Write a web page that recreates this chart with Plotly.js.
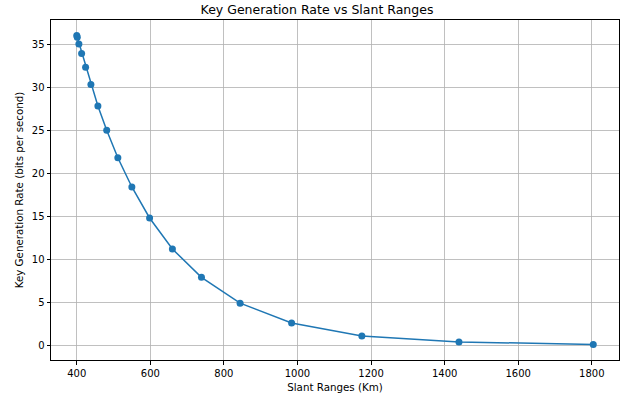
<!DOCTYPE html>
<html>
<head>
<meta charset="utf-8">
<script src="https://cdn.plot.ly/plotly-3.0.1.min.js"></script>
<style>html,body{margin:0;padding:0;background:#fff;}#chart{width:634px;height:401px;}</style>
</head>
<body>
<div id="chart"></div>
<script>
const slantRanges = [400, 401.4, 405.8, 413.2, 424, 438.5, 457.5, 481.4, 511.7, 549.8, 598, 660, 739, 844, 984, 1175, 1439, 1804];
const keyRates = [36.0, 35.8, 35.0, 33.9, 32.3, 30.3, 27.8, 25.0, 21.8, 18.4, 14.8, 11.2, 7.9, 4.9, 2.6, 1.1, 0.4, 0.1];
const xTicks = [400, 600, 800, 1000, 1200, 1400, 1600, 1800];
const yTicks = [0, 5, 10, 15, 20, 25, 30, 35];

const font = {family: 'DejaVu Sans, sans-serif', size: 10, color: '#000'};
const titleFont = {family: 'DejaVu Sans, sans-serif', size: 10.3, color: '#000'};
const trace = {
  x: slantRanges, y: keyRates, type: 'scatter', mode: 'lines+markers',
  line: {color: '#1f77b4', width: 1.5},
  marker: {color: '#1f77b4', size: 7},
  hoverinfo: 'skip'
};
const axisCommon = {
  showline: true, linecolor: '#000', linewidth: 1, mirror: true,
  ticks: 'outside', ticklen: 3.5, tickwidth: 1, tickcolor: '#000',
  showgrid: true, gridcolor: '#b0b0b0', gridwidth: 0.8,
  zeroline: false, tickfont: font
};
const layout = {
  width: 634, height: 401,
  margin: {l: 51, r: 15, t: 20, b: 41},
  paper_bgcolor: '#fff', plot_bgcolor: '#fff',
  font: font,
  showlegend: false,
  title: {text: 'Key Generation Rate vs Slant Ranges', font: {family: 'DejaVu Sans, sans-serif', size: 12.5, color: '#000'}, x: 0.5, xanchor: 'center', y: 0.975, yanchor: 'middle'},
  xaxis: Object.assign({}, axisCommon, {
    range: [330, 1874], tickvals: xTicks, ticktext: xTicks.map(String),
    title: {text: 'Slant Ranges (Km)', font: titleFont, standoff: 6}
  }),
  yaxis: Object.assign({}, axisCommon, {
    range: [-1.7, 37.8], tickvals: yTicks, ticktext: yTicks.map(String),
    title: {text: 'Key Generation Rate (bits per second)', font: titleFont, standoff: 6}
  })
};
Plotly.newPlot('chart', [trace], layout, {staticPlot: true, displayModeBar: false});
</script>
</body>
</html>
